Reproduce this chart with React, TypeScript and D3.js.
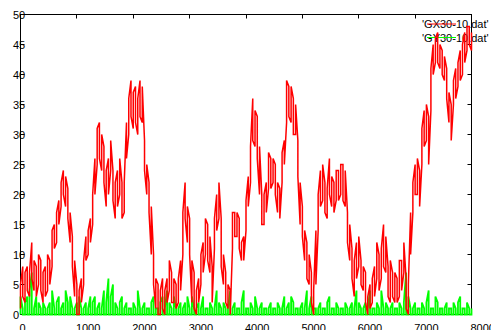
import React, { useEffect, useRef } from "react";
import * as d3 from "d3";

const STEP = 40;
const gxLow: number[] = [
  1, 3, 2, 4, 3, 6, 4, 3, 5, 4,
  2, 3, 4, 5, 8, 11, 12, 15, 18, 20,
  18, 16, 12, 8, 3, 0, 0, 2, 5, 9,
  10, 12, 15, 20, 25, 26, 24, 22, 18, 20,
  24, 19, 16, 18, 20, 16, 17, 26, 30, 33,
  31, 32, 30, 33, 32, 24, 20, 17, 10, 5,
  1, 0, 0, 1, 0, 2, 4, 2, 2, 1,
  2, 4, 10, 16, 12, 10, 2, 1, 0, 2,
  5, 7, 10, 9, 7, 2, 11, 14, 16, 8,
  5, 2, 1, 0, 11, 13, 13, 11, 9, 9,
  14, 18, 22, 29, 28, 26, 20, 15, 15, 17,
  21, 21, 22, 20, 17, 16, 22, 25, 32, 33,
  32, 30, 30, 23, 15, 13, 9, 6, 5, 2,
  0, 5, 14, 18, 19, 17, 16, 20, 18, 17,
  19, 19, 20, 19, 18, 12, 9, 6, 3, 6,
  8, 5, 4, 2, 0, 1, 2, 3, 6, 4,
  6, 8, 7, 3, 2, 3, 2, 2, 3, 4,
  7, 1, 0, 10, 17, 20, 20, 18, 25, 28,
  29, 25, 34, 40, 42, 42, 41, 40, 39, 36,
  32, 29, 35, 36, 38, 39, 40, 42, 44, 45,
  44,
];
const gxHigh: number[] = [
  5, 8, 7, 8, 7, 12, 9, 8, 10, 9,
  7, 8, 10, 9, 14, 15, 17, 19, 22, 24,
  23, 21, 17, 13, 9, 5, 4, 6, 9, 13,
  14, 16, 20, 26, 31, 32, 30, 28, 24, 26,
  29, 24, 22, 24, 26, 22, 22, 32, 36, 39,
  37, 38, 36, 39, 38, 29, 25, 22, 18, 10,
  6, 5, 4, 6, 4, 6, 9, 7, 6, 5,
  6, 9, 17, 22, 18, 16, 9, 7, 4, 6,
  10, 12, 16, 15, 13, 8, 16, 20, 22, 16,
  10, 7, 5, 4, 17, 17, 17, 16, 12, 13,
  19, 23, 28, 36, 34, 33, 28, 20, 20, 22,
  27, 26, 26, 25, 22, 21, 27, 29, 39, 38,
  38, 36, 35, 29, 22, 18, 14, 12, 10, 7,
  4, 14, 20, 24, 25, 22, 21, 26, 23, 22,
  24, 24, 25, 25, 24, 17, 15, 11, 9, 12,
  13, 9, 8, 7, 3, 5, 6, 8, 12, 10,
  11, 15, 13, 8, 9, 7, 7, 6, 9, 9,
  12, 6, 5, 17, 22, 25, 26, 24, 31, 34,
  35, 33, 41, 45, 46, 47, 45, 44, 43, 41,
  37, 35, 39, 41, 42, 44, 45, 47, 48, 48,
  47,
];
const gyLow: number[] = new Array(201).fill(0);
const gyHigh: number[] = [
  3, 1, 2, 3, 4, 7, 1, 3, 2, 1,
  2, 1, 1, 2, 4, 1, 2, 3, 1, 2,
  4, 2, 3, 1, 1, 2, 3, 1, 1, 2,
  1, 3, 2, 3, 1, 2, 1, 4, 2, 6,
  3, 5, 2, 1, 2, 3, 1, 2, 1, 1,
  2, 1, 4, 1, 1, 2, 1, 1, 2, 3,
  1, 1, 2, 3, 1, 4, 2, 1, 3, 1,
  1, 2, 1, 2, 3, 1, 3, 1, 1, 2,
  1, 3, 1, 1, 2, 1, 1, 4, 2, 1,
  2, 1, 1, 4, 1, 2, 1, 1, 2, 4,
  1, 1, 2, 1, 3, 1, 1, 2, 1, 1,
  1, 2, 1, 1, 2, 1, 1, 3, 1, 2,
  3, 2, 1, 1, 1, 2, 1, 4, 1, 3,
  1, 1, 1, 2, 1, 1, 2, 3, 1, 1,
  2, 1, 1, 1, 2, 1, 1, 2, 1, 4,
  2, 1, 1, 2, 1, 4, 1, 1, 2, 1,
  4, 1, 2, 1, 1, 2, 1, 1, 2, 1,
  2, 7, 3, 1, 1, 2, 1, 1, 2, 1,
  2, 4, 1, 1, 3, 2, 1, 1, 1, 2,
  1, 1, 2, 1, 2, 3, 1, 1, 2, 1,
  1,
];
const xTicks: number[] = [0, 1000, 2000, 3000, 4000, 5000, 6000, 7000, 8000];
const yTicks: number[] = [0, 5, 10, 15, 20, 25, 30, 35, 40, 45, 50];
const seriesNames: string[] = ["'GX30-10.dat'", "'GY30-10.dat'"];
const seriesColors: string[] = ["#ff0000", "#00ff00"];

const W = 491;
const H = 330;
const FONT = "'Liberation Sans', Arial, sans-serif";

// builds a min/max trace: at each sample the line sweeps between low and high
function minMaxPoints(lo: number[], hi: number[]): [number, number][] {
  const pts: [number, number][] = [];
  lo.forEach((l, i) => {
    const t = i * STEP;
    if (i % 2 === 0) {
      pts.push([t, l], [t, hi[i]]);
    } else {
      pts.push([t, hi[i]], [t, l]);
    }
  });
  return pts;
}

export default function App() {
  const ref = useRef<SVGSVGElement | null>(null);

  useEffect(() => {
    const svg = d3.select(ref.current);
    svg.selectAll("*").remove();
    const x = d3.scaleLinear().domain([0, 8000]).range([20.5, 471.5]);
    const y = d3.scaleLinear().domain([0, 50]).range([314.5, 14.5]);

    svg.append("rect").attr("width", W).attr("height", H).attr("fill", "#fff");

    const line = d3
      .line<[number, number]>()
      .x((d) => x(d[0]))
      .y((d) => y(d[1]));

    // frame
    svg
      .append("rect")
      .attr("x", x(0))
      .attr("y", y(50))
      .attr("width", x(8000) - x(0))
      .attr("height", y(0) - y(50))
      .attr("fill", "none")
      .attr("stroke", "#000")
      .attr("stroke-width", 1);

    const tl = 4;
    const tg = svg.append("g").attr("stroke", "#000").attr("stroke-width", 1);
    xTicks.forEach((t) => {
      const px = Math.round(x(t) - 0.5) + 0.5;
      tg.append("line").attr("x1", px).attr("x2", px).attr("y1", y(0)).attr("y2", y(0) - tl);
      tg.append("line").attr("x1", px).attr("x2", px).attr("y1", y(50)).attr("y2", y(50) + tl);
    });
    yTicks.forEach((t) => {
      const py = Math.round(y(t) - 0.5) + 0.5;
      tg.append("line").attr("x1", x(0)).attr("x2", x(0) + tl).attr("y1", py).attr("y2", py);
      tg.append("line").attr("x1", x(8000)).attr("x2", x(8000) - tl).attr("y1", py).attr("y2", py);
    });

    const lab = svg
      .append("g")
      .attr("font-family", FONT)
      .attr("font-size", 11)
      .attr("fill", "#000");
    yTicks.forEach((t) => {
      lab.append("text").attr("x", 13).attr("y", y(t) + 4).text(String(t));
    });
    xTicks.forEach((t) => {
      lab.append("text").attr("x", x(t) - 1).attr("y", 332).text(String(t));
    });

    // legend
    seriesNames.forEach((name, i) => {
      const ly = 24 + i * 13.5;
      lab.append("text").attr("x", 422).attr("y", ly + 4).text(name);
      svg
        .append("line")
        .attr("x1", 427)
        .attr("x2", 456)
        .attr("y1", ly)
        .attr("y2", ly)
        .attr("stroke", seriesColors[i])
        .attr("stroke-width", 1);
    });

    // green first, red on top
    svg
      .append("path")
      .attr("d", line(minMaxPoints(gyLow, gyHigh)) as string)
      .attr("fill", "none")
      .attr("stroke", seriesColors[1])
      .attr("stroke-width", 1.8)
      .attr("stroke-linejoin", "miter");
    svg
      .append("path")
      .attr("d", line(minMaxPoints(gxLow, gxHigh)) as string)
      .attr("fill", "none")
      .attr("stroke", seriesColors[0])
      .attr("stroke-width", 1.5)
      .attr("stroke-linejoin", "miter");
  }, []);

  return (
    <svg
      ref={ref}
      width={W}
      height={H}
      style={{ position: "fixed", left: 0, top: 0, display: "block" }}
    />
  );
}
